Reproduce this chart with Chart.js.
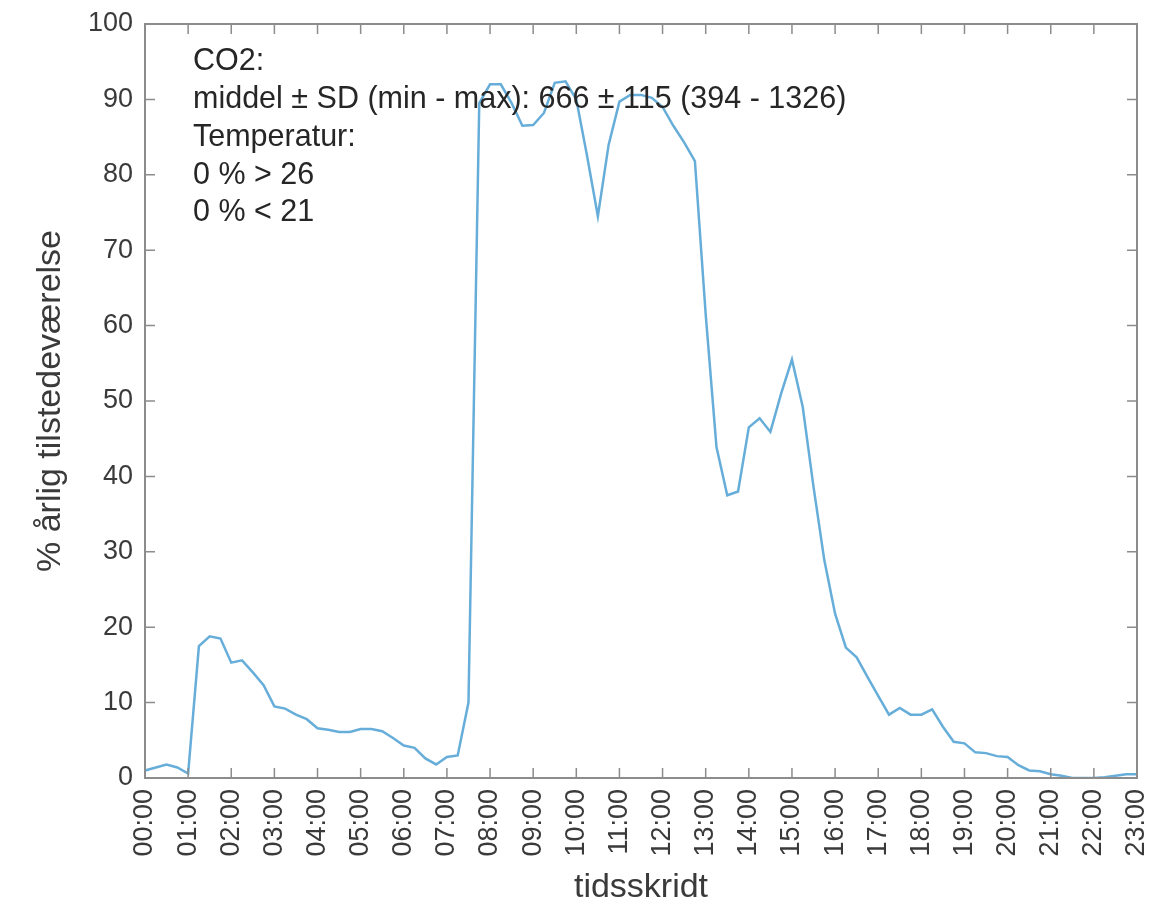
<!DOCTYPE html>
<html>
<head>
<meta charset="utf-8">
<script src="https://cdn.jsdelivr.net/npm/chart.js@4/dist/chart.umd.min.js"></script>
<style>
  body { margin: 0; background: #fff; }
</style>
</head>
<body>
<canvas id="presenceChart" width="1158" height="914"></canvas>
<script>
// 15 minute time steps
const timeLabels = [
  '00:00','00:15','00:30','00:45','01:00','01:15','01:30','01:45',
  '02:00','02:15','02:30','02:45','03:00','03:15','03:30','03:45',
  '04:00','04:15','04:30','04:45','05:00','05:15','05:30','05:45',
  '06:00','06:15','06:30','06:45','07:00','07:15','07:30','07:45',
  '08:00','08:15','08:30','08:45','09:00','09:15','09:30','09:45',
  '10:00','10:15','10:30','10:45','11:00','11:15','11:30','11:45',
  '12:00','12:15','12:30','12:45','13:00','13:15','13:30','13:45',
  '14:00','14:15','14:30','14:45','15:00','15:15','15:30','15:45',
  '16:00','16:15','16:30','16:45','17:00','17:15','17:30','17:45',
  '18:00','18:15','18:30','18:45','19:00','19:15','19:30','19:45',
  '20:00','20:15','20:30','20:45','21:00','21:15','21:30','21:45',
  '22:00','22:15','22:30','22:45','23:00'
];

// % yearly presence per time step
const presence = [
  1.0, 1.4, 1.8, 1.4, 0.6, 17.5, 18.8, 18.5,
  15.3, 15.6, 14.0, 12.3, 9.5, 9.2, 8.4, 7.8,
  6.6, 6.4, 6.1, 6.1, 6.5, 6.5, 6.2, 5.3,
  4.3, 4.0, 2.6, 1.8, 2.8, 3.0, 10.0, 89.5,
  92.0, 92.0, 89.5, 86.5, 86.6, 88.2, 92.2, 92.4,
  90.0, 82.5, 74.5, 84.0, 89.7, 90.6, 90.6, 90.2,
  89.0, 86.5, 84.3, 81.8, 61.5, 43.9, 37.5, 38.0,
  46.5, 47.7, 45.9, 51.0, 55.5, 49.2, 38.6, 28.9,
  21.8, 17.3, 16.0, 13.4, 10.9, 8.4, 9.3, 8.4,
  8.4, 9.1, 6.8, 4.8, 4.6, 3.4, 3.3, 2.9,
  2.8, 1.7, 1.0, 0.9, 0.5, 0.3, 0.0, 0.0,
  0.0, 0.1, 0.3, 0.5, 0.5
];

const noteLines = [
  'CO2:',
  'middel \u00b1 SD (min - max): 666 \u00b1 115 (394 - 1326)',
  'Temperatur:',
  '0 % > 26',
  '0 % < 21'
];

const axisColor = '#8c8c8c';
const textColor = '#3a3a3a';
const fontFamily = '"Liberation Sans", Arial, Helvetica, sans-serif';

// matlab style box with inward ticks + the text block
const boxTicks = {
  id: 'boxTicks',
  afterDraw(chart) {
    const { ctx, chartArea: a, scales: { x, y } } = chart;
    ctx.save();
    ctx.strokeStyle = axisColor;
    ctx.lineWidth = 2;
    ctx.strokeRect(a.left, a.top, a.right - a.left, a.bottom - a.top);
    ctx.lineWidth = 1.5;
    ctx.beginPath();
    x.ticks.forEach((t, i) => {
      const px = x.getPixelForTick(i);
      ctx.moveTo(px, a.bottom); ctx.lineTo(px, a.bottom - 10);
      ctx.moveTo(px, a.top); ctx.lineTo(px, a.top + 10);
    });
    y.ticks.forEach((t, i) => {
      const py = y.getPixelForTick(i);
      ctx.moveTo(a.left, py); ctx.lineTo(a.left + 10, py);
      ctx.moveTo(a.right, py); ctx.lineTo(a.right - 10, py);
    });
    ctx.stroke();

    ctx.fillStyle = '#262626';
    ctx.font = '30.5px ' + fontFamily;
    ctx.textBaseline = 'middle';
    noteLines.forEach((line, i) => {
      ctx.fillText(line, a.left + 48, a.top + 38 + i * 37.7);
    });
    ctx.restore();
  }
};

const presenceChart = document.getElementById('presenceChart');

new Chart(presenceChart, {
  type: 'line',
  data: {
    labels: timeLabels,
    datasets: [{
      label: 'tilstedeværelse',
      data: presence,
      borderColor: '#66aed9',
      borderWidth: 2.5,
      pointRadius: 0,
      tension: 0,
      fill: false
    }]
  },
  options: {
    responsive: false,
    animation: false,
    layout: { padding: { left: 0, top: 24, right: 21, bottom: 0 } },
    plugins: {
      legend: { display: false },
      tooltip: { enabled: false }
    },
    scales: {
      x: {
        type: 'category',
        grid: { display: false, drawTicks: false },
        border: { display: true, color: axisColor, width: 2 },
        ticks: {
          autoSkip: false,
          minRotation: 90,
          maxRotation: 90,
          padding: 11,
          color: textColor,
          font: { family: fontFamily, size: 27 }
        },
        afterBuildTicks: s => {
          s.ticks = s.ticks.filter(t => timeLabels[t.value].endsWith(':00'));
        },
        afterFit: s => {
          s.height = 136;
          s.paddingLeft = 0;
          s.paddingRight = 0;
        },
        title: {
          display: true,
          text: 'tidsskridt',
          color: textColor,
          padding: { top: 7, bottom: 6 },
          font: { family: fontFamily, size: 34 }
        }
      },
      y: {
        min: 0,
        max: 100,
        grid: { display: false, drawTicks: false },
        border: { display: true, color: axisColor, width: 2 },
        ticks: {
          stepSize: 10,
          padding: 12,
          color: textColor,
          font: { family: fontFamily, size: 27 }
        },
        afterFit: s => {
          s.width = 145;
          s.paddingTop = 0;
          s.paddingBottom = 0;
        },
        title: {
          display: true,
          text: '% årlig tilstedeværelse',
          color: textColor,
          padding: { top: 30, bottom: 0 },
          font: { family: fontFamily, size: 34 }
        }
      }
    }
  },
  plugins: [boxTicks]
});
</script>
</body>
</html>
